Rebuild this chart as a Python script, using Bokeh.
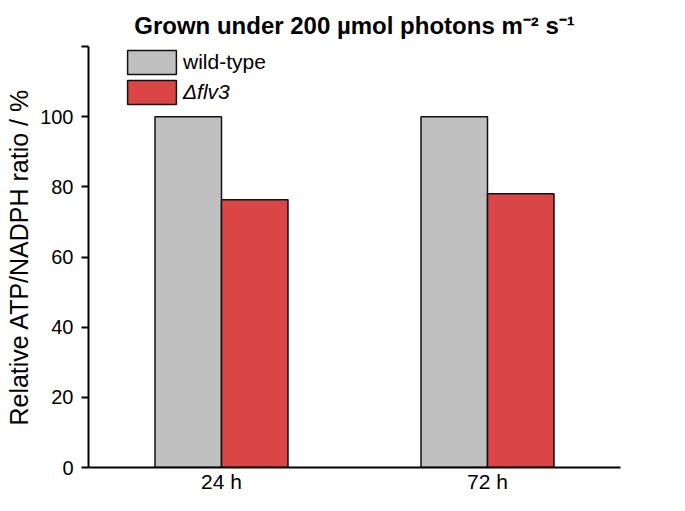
from bokeh.plotting import figure
from bokeh.models import ColumnDataSource, FactorRange, Range1d, Legend, LegendItem, FixedTicker
from bokeh.transform import dodge
from bokeh.embed import file_html
from bokeh.resources import INLINE

# data
categories = ["24 h", "72 h"]
wild_type = [100.0, 100.0]
delta_flv3 = [76.3, 78.0]
series_names = ["wild-type", "\u0394flv3"]
y_ticks = [0, 20, 40, 60, 80, 100, 120]

FONT = "Liberation Sans"

source = ColumnDataSource(dict(cat=categories, wt=wild_type, flv3=delta_flv3))

p = figure(
    x_range=FactorRange(*categories, range_padding=0),
    y_range=Range1d(0, 120),
    width=669, height=495,
    output_backend="svg", toolbar_location=None,
    min_border_left=88, min_border_right=49,
    min_border_top=46, min_border_bottom=28,
)

r_wt = p.vbar(x=dodge("cat", -0.125, range=p.x_range), top="wt", width=0.25,
              source=source, fill_color="#c0c0c0", line_color="#111111", line_width=1.5)
r_fl = p.vbar(x=dodge("cat", 0.125, range=p.x_range), top="flv3", width=0.25,
              source=source, fill_color="#da4646", line_color="#111111", line_width=1.5)

# title
p.title.text = "Grown under 200 \u00b5mol photons m\u207b\u00b2 s\u207b\u00b9"
p.title.text_font = FONT
p.title.text_font_size = "24px"
p.title.text_font_style = "bold"
p.title.align = "center"
p.title.offset = 9
p.title.standoff = 16
p.title.text_color = "black"

p.outline_line_color = None
p.xgrid.visible = False
p.ygrid.visible = False

# y axis
ya = p.yaxis[0]
ya.ticker = FixedTicker(ticks=y_ticks)
ya.major_label_overrides = {120: ""}
ya.minor_tick_line_color = None
ya.minor_tick_out = 0
ya.minor_tick_in = 0
ya.major_tick_in = 0
ya.major_tick_out = 7
ya.major_tick_line_width = 2
ya.axis_line_width = 2
ya.axis_line_color = "black"
ya.major_tick_line_color = "black"
ya.major_label_text_font = FONT
ya.major_label_text_font_size = "20px"
ya.major_label_text_color = "black"
ya.major_label_standoff = 8
ya.axis_label = "Relative ATP/NADPH ratio / %"
ya.axis_label_text_font = FONT
ya.axis_label_text_font_size = "25px"
ya.axis_label_text_font_style = "normal"
ya.axis_label_text_color = "black"
ya.axis_label_standoff = 4

# x axis
xa = p.xaxis[0]
xa.major_tick_line_color = None
xa.minor_tick_line_color = None
xa.major_tick_out = 0
xa.major_tick_in = 0
xa.minor_tick_out = 0
xa.minor_tick_in = 0
xa.axis_line_width = 2
xa.axis_line_color = "black"
xa.major_label_text_font = FONT
xa.major_label_text_font_size = "21px"
xa.major_label_text_color = "black"
xa.major_label_standoff = 2
xa.axis_label_standoff = 0

# legends (two, so only the mutant label is italic)
def make_legend(label, renderer, y, style):
    lg = Legend(items=[LegendItem(label=label, renderers=[renderer])],
                location=(33, y), orientation="vertical",
                glyph_width=61, glyph_height=30, label_height=30,
                label_standoff=1, spacing=0, padding=0, margin=0,
                border_line_color=None, background_fill_alpha=0,
                label_text_font=FONT, label_text_font_size="21px",
                label_text_font_style=style, label_text_color="black")
    return lg

p.add_layout(make_legend(series_names[0], r_wt, 390, "normal"))
p.add_layout(make_legend(series_names[1], r_fl, 360, "italic"))

open("out.html", "w").write(file_html(p, INLINE))
